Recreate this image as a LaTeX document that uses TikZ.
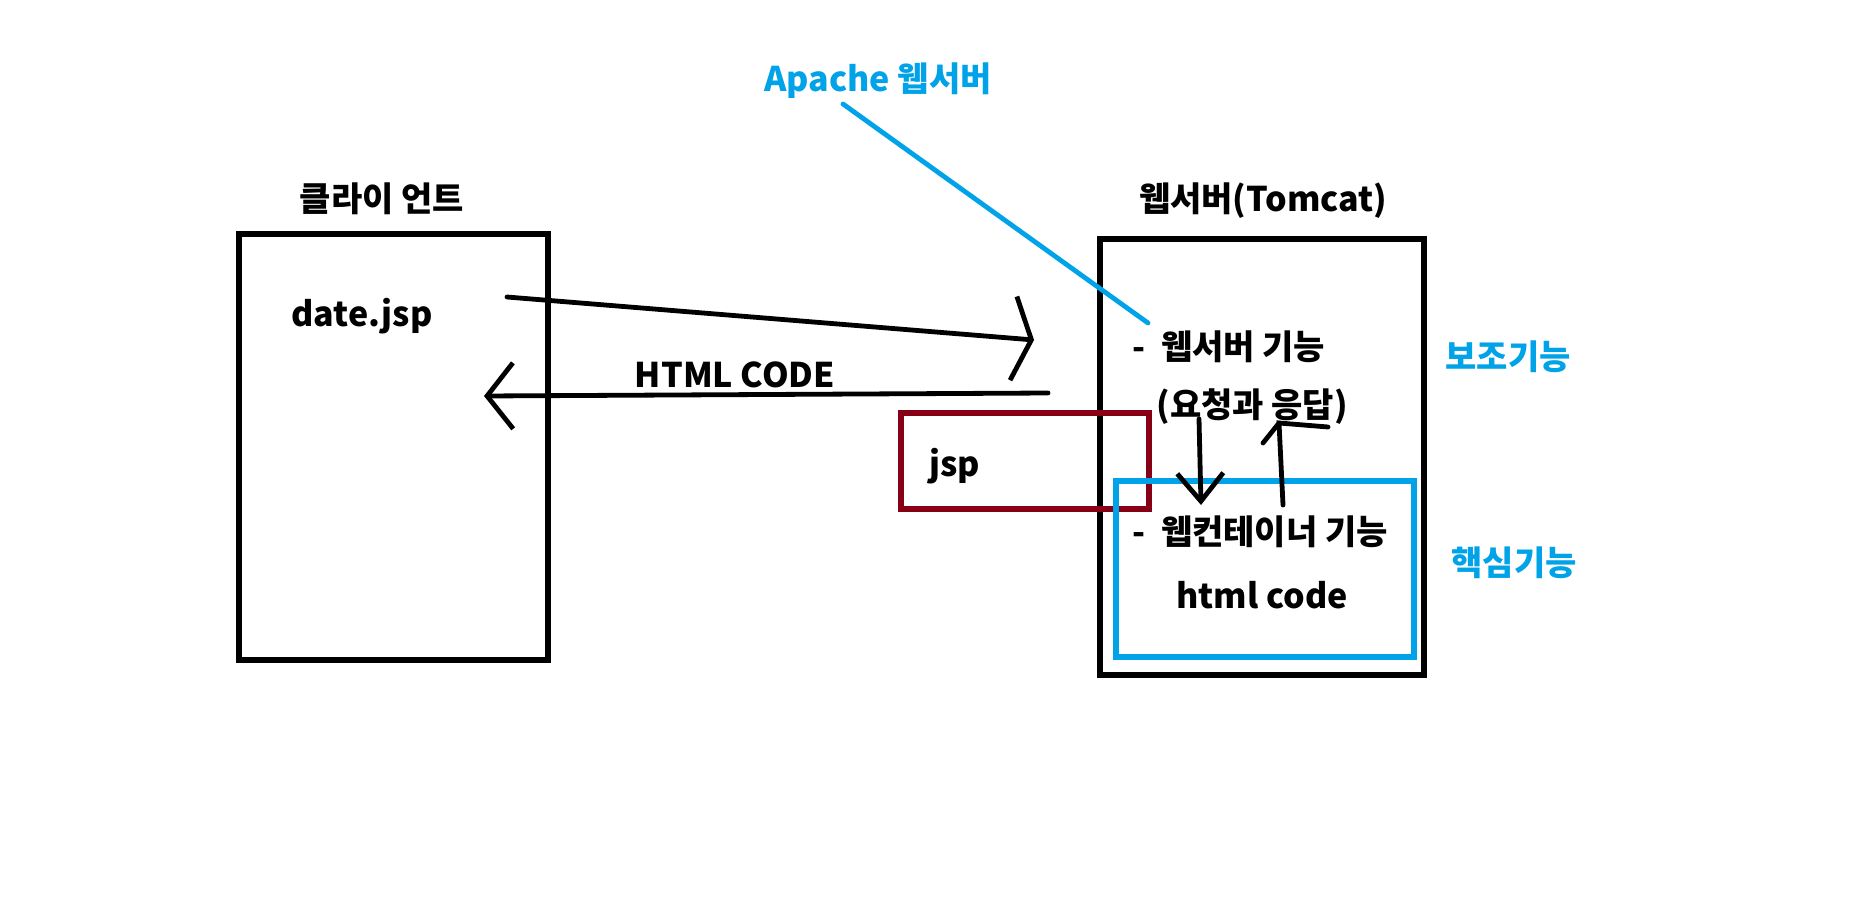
\documentclass[tikz,border=0pt]{standalone}
\usepackage{fontspec}
\setmainfont{Noto Sans CJK KR}
\usepackage{tikz}
\usetikzlibrary{positioning, calc}
\usetikzlibrary{arrows.meta}
\definecolor{paintblue}{RGB}{0,162,232}
\definecolor{paintred}{RGB}{136,0,21}

\begin{document}
\begin{tikzpicture}[x=0.5pt,y=-0.5pt]
	\tikzstyle{lbl}=[font=\fontsize{17}{20}\selectfont\bfseries,inner sep=0pt]
	\tikzstyle{bluelbl}=[lbl,text=paintblue]
	\tikzstyle{box}=[draw=black,line width=2.6pt,inner sep=0pt]
	\tikzstyle{hand}=[line width=2.4pt,line cap=round]
	\useasboundingbox (0,0) rectangle (1872,904);
	% titles
	\node[lbl] (clienttitle) at (382,199) {클라이 언트};
	\node[lbl] (servertitle) at (1263,201) {웹서버(Tomcat)};
	\node[bluelbl] (apache) at (878,81) {Apache 웹서버};

	% boxes
	\node[box,minimum width=154.5pt,minimum height=213pt] (client) at (393.5,447) {};
	\node[box,minimum width=162pt,minimum height=218pt] (server) at (1262,457) {};
	\node[box,draw=paintred,minimum width=124pt,minimum height=48pt] (jspbox) at (1025,461) {};
	\node[box,draw=paintblue,minimum width=149pt,minimum height=88pt] (corebox) at (1265,569) {};

	% texts
	\node[lbl] (datejsp) at (362,316) {date.jsp};
	\node[lbl] (htmlcode) at (735,375) {HTML CODE};
	\node[lbl,anchor=west] (jsp) at (929,466) {jsp};
	\node[lbl,anchor=west] (wsfunc) at (1132,347) {-~~웹서버 기능};
	\node[lbl,anchor=west] (reqres) at (1156,407) {(요청과 응답)};
	\node[lbl,anchor=west] (wcfunc) at (1132,532) {-~~웹컨테이너 기능};
	\node[lbl] (htmlcodesm) at (1262,595) {html code};
	\node[bluelbl] (aux) at (1508,357) {보조기능};
	\node[bluelbl] (core) at (1514,563) {핵심기능};

	% end points
	\coordinate (reqstart) at (507,297);
	\coordinate (reqend) at (1034,340);
	\coordinate (resstart) at (1048,393);
	\coordinate (resend) at (484,396);
	\coordinate (downtop) at (1199,419);
	\coordinate (downtip) at (1201,505);
	\coordinate (upbot) at (1283,505);
	\coordinate (uptip) at (1279,423);
	\coordinate (upleft) at (1263,443);
	\coordinate (upright) at (1328,427);
	\coordinate (leadstart) at (843,104);
	\coordinate (leadend) at (1148,323);

	\draw[hand,-{Straight Barb[length=9pt,width=42pt]}] (reqstart) -- (reqend);
	\draw[hand,-{Straight Barb[length=13pt,width=33pt]}] (resstart) -- (resend);
	\draw[hand,-{Straight Barb[length=14pt,width=23pt]}] (downtop) -- (downtip);
	\draw[hand] (upbot) -- (uptip) -- (upright);
	\draw[hand] (uptip) -- (upleft);
	\draw[hand,paintblue] (leadstart) -- (leadend);
\end{tikzpicture}
\end{document}
